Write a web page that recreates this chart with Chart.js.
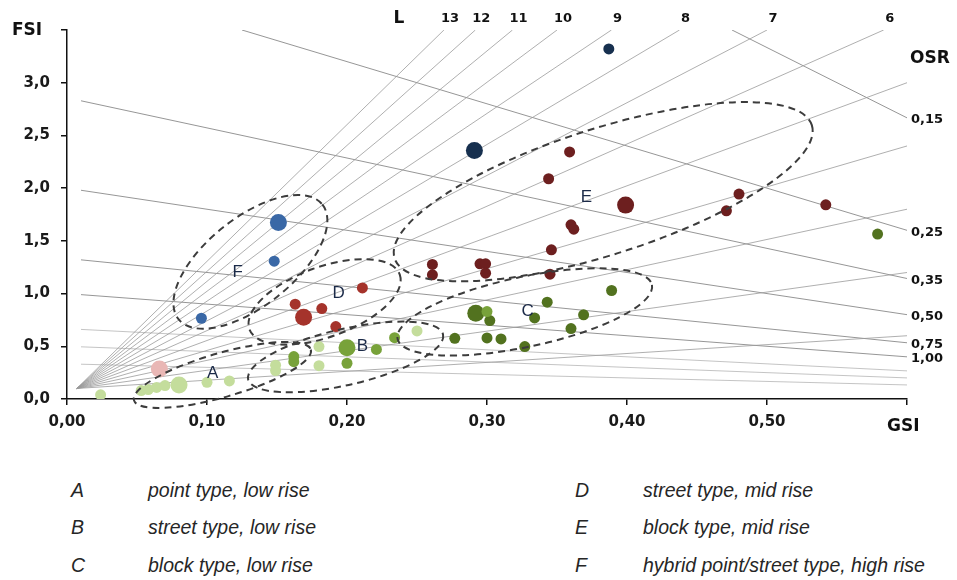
<!DOCTYPE html>
<html>
<head>
<meta charset="utf-8">
<script src="https://cdn.jsdelivr.net/npm/chart.js@4.4.1/dist/chart.umd.min.js"></script>
<style>
body{margin:0;background:#fff;width:957px;height:580px;overflow:hidden;position:relative;font-family:"Liberation Sans",Arial,sans-serif}
#wrap{position:absolute;left:0;top:0;width:957px;height:450px}
.lg{position:absolute;font-family:"Liberation Sans",Arial,sans-serif;font-style:italic;font-size:19.5px;color:#262626;line-height:20px;white-space:nowrap}
</style>
</head>
<body>
<div id="wrap"><canvas id="myChart" width="957" height="450"></canvas></div>
<div id="legend"></div>
<script>
// L lines (FSI = L * GSI) and OSR lines (FSI = (1 - GSI) / OSR)
var lValues = [1, 2, 3, 4, 5, 6, 7, 8, 9, 10, 11, 12, 13];
var lLabelled = [6, 7, 8, 9, 10, 11, 12, 13];
var osrValues = [0.15, 0.25, 0.35, 0.5, 0.75, 1, 1.5, 2, 3];
var osrLabels = ['0,15', '0,25', '0,35', '0,50', '0,75', '1,00'];

// samples
var lightGsi = [0.024, 0.053, 0.058, 0.064, 0.070, 0.080, 0.100, 0.116, 0.149, 0.149, 0.180, 0.180, 0.250];
var lightFsi = [0.04, 0.08, 0.09, 0.11, 0.127, 0.133, 0.158, 0.171, 0.32, 0.27, 0.316, 0.497, 0.646];
var lightBig = [0, 0, 0, 0, 0, 1, 0, 0, 0, 0, 0, 0, 0];

var pinkGsi = [0.066];
var pinkFsi = [0.285];
var pinkBig = [1];

var greenGsi = [0.200, 0.221, 0.234, 0.162, 0.162, 0.200, 0.300];
var greenFsi = [0.487, 0.470, 0.582, 0.402, 0.354, 0.339, 0.829];
var greenBig = [1, 0, 0, 0, 0, 0, 0];

var oliveGsi = [0.277, 0.292, 0.302, 0.343, 0.389, 0.334, 0.369, 0.360, 0.300, 0.310, 0.327, 0.579];
var oliveFsi = [0.576, 0.814, 0.744, 0.918, 1.029, 0.769, 0.798, 0.668, 0.579, 0.570, 0.497, 1.564];
var oliveBig = [0, 1, 0, 0, 0, 0, 0, 0, 0, 0, 0, 0];

var redGsi = [0.211, 0.163, 0.182, 0.169, 0.192];
var redFsi = [1.054, 0.899, 0.858, 0.776, 0.687];
var redBig = [0, 0, 0, 1, 0];

var maroonGsi = [0.261, 0.261, 0.295, 0.299, 0.299, 0.346, 0.345, 0.359, 0.344, 0.399, 0.360, 0.362, 0.480, 0.471, 0.542];
var maroonFsi = [1.276, 1.178, 1.282, 1.282, 1.193, 1.415, 1.184, 2.343, 2.089, 1.839, 1.652, 1.611, 1.944, 1.785, 1.842];
var maroonBig = [0, 0, 0, 0, 0, 0, 0, 0, 0, 1, 0, 0, 0, 0, 0];

var blueGsi = [0.151, 0.148, 0.096];
var blueFsi = [1.674, 1.307, 0.766];
var blueBig = [1, 0, 0];

var navyGsi = [0.291, 0.387];
var navyFsi = [2.358, 3.32];
var navyBig = [1, 0];

var groupLetters = ['A', 'B', 'C', 'D', 'E', 'F'];
var groupNames = ['point type, low rise', 'street type, low rise', 'block type, low rise',
                  'street type, mid rise', 'block type, mid rise', 'hybrid point/street type, high rise'];
var letterGsi = [0.104, 0.211, 0.329, 0.194, 0.371, 0.122];
var letterFsi = [0.247, 0.503, 0.836, 1.007, 1.909, 1.206];

// dashed group outlines: centre in data units, radii in px
var ellipses = [
    {gsi: 0.111, fsi: 0.228, a: 92, b: 22, rot: -16},
    {gsi: 0.199, fsi: 0.399, a: 100, b: 28, rot: -13},
    {gsi: 0.327, fsi: 0.826, a: 130, b: 35, rot: -12},
    {gsi: 0.184, fsi: 0.921, a: 80, b: 35, rot: -20},
    {gsi: 0.383, fsi: 1.966, a: 219, b: 63, rot: -17.7},
    {gsi: 0.131, fsi: 1.301, a: 92, b: 44, rot: -38.6}
];

var gsiMax = 0.6, fsiMax = 3.5;

function pts(g, f, big) {
    return g.map(function (v, i) { return {x: v, y: f[i], big: big[i]}; });
}

var datasets = [];

lValues.forEach(function (L) {
    var end = Math.min(fsiMax / L, gsiMax);
    datasets.push({
        type: 'line', data: [{x: 0.007, y: 0.1}, {x: end, y: L * end}],
        borderColor: '#9a9a9a', borderWidth: 0.8, pointRadius: 0, order: 10
    });
});
osrValues.forEach(function (o, i) {
    var start = Math.max(0.01, 1 - fsiMax * o);
    datasets.push({
        type: 'line', data: [{x: start, y: (1 - start) / o}, {x: gsiMax, y: (1 - gsiMax) / o}],
        borderColor: i < osrLabels.length ? '#8a8a8a' : '#bdbdbd', borderWidth: 0.9, pointRadius: 0, order: 10
    });
});

function addGroup(g, f, big, colour) {
    datasets.push({
        type: 'scatter', data: pts(g, f, big), backgroundColor: colour, borderWidth: 0,
        pointRadius: function (c) { return c.raw && c.raw.big ? 8.5 : 5.5; }, order: 1
    });
}
addGroup(lightGsi, lightFsi, lightBig, '#c4dd9c');
addGroup(pinkGsi, pinkFsi, pinkBig, '#e9b7b5');
addGroup(greenGsi, greenFsi, greenBig, '#78a23a');
addGroup(oliveGsi, oliveFsi, oliveBig, '#52721f');
addGroup(redGsi, redFsi, redBig, '#a5332b');
addGroup(maroonGsi, maroonFsi, maroonBig, '#6d1f1f');
addGroup(blueGsi, blueFsi, blueBig, '#3a68a6');
addGroup(navyGsi, navyFsi, navyBig, '#17304f');

var overlay = {
    id: 'overlay',
    afterDatasetsDraw: function (chart) {
        var c = chart.ctx, xs = chart.scales.x, ys = chart.scales.y;
        c.save();
        c.strokeStyle = '#3c3c3c';
        c.lineWidth = 2;
        c.setLineDash([7, 5]);
        ellipses.forEach(function (e) {
            c.beginPath();
            c.ellipse(xs.getPixelForValue(e.gsi), ys.getPixelForValue(e.fsi), e.a, e.b, e.rot * Math.PI / 180, 0, 2 * Math.PI);
            c.stroke();
        });
        c.setLineDash([]);

        c.fillStyle = '#1b2a48';
        c.font = '17px "Liberation Sans", Arial, sans-serif';
        c.textAlign = 'center';
        c.textBaseline = 'middle';
        groupLetters.forEach(function (t, i) {
            c.fillText(t, xs.getPixelForValue(letterGsi[i]), ys.getPixelForValue(letterFsi[i]));
        });

        c.fillStyle = '#111';
        c.font = 'bold 13px "DejaVu Sans", sans-serif';
        lLabelled.forEach(function (L) {
            c.fillText(String(L), xs.getPixelForValue(fsiMax / L) + 6, 19);
        });
        c.textAlign = 'left';
        osrLabels.forEach(function (t, i) {
            var o = osrValues[i];
            c.fillText(t, xs.getPixelForValue(gsiMax) + 4, ys.getPixelForValue((1 - gsiMax) / o) + 2);
        });

        c.font = 'bold 17px "DejaVu Sans", sans-serif';
        c.fillText('FSI', 12, 31);
        c.fillText('GSI', 887, 427);
        c.fillText('OSR', 910, 59);
        c.textAlign = 'center';
        c.fillText('L', 399, 19);
        c.restore();
    }
};

var tickFont = {family: '"DejaVu Sans", sans-serif', weight: 'bold', size: 15};

var ctx = document.getElementById('myChart').getContext('2d');
var myChart = new Chart(ctx, {
    type: 'scatter',
    data: {datasets: datasets},
    options: {
        responsive: false,
        animation: false,
        layout: {padding: {top: 30, right: 50, left: 0, bottom: 0}},
        plugins: {legend: {display: false}, tooltip: {enabled: false}},
        scales: {
            x: {
                type: 'linear', min: 0, max: gsiMax,
                afterFit: function (s) { s.height = 51; },
                border: {color: '#111', width: 1.5},
                grid: {drawOnChartArea: false, color: '#111', lineWidth: 1.5, tickLength: 6},
                ticks: {
                    stepSize: 0.1, autoSkip: false, maxRotation: 0, padding: 8, color: '#1a1a1a', font: tickFont,
                    callback: function (v) { return v > gsiMax - 1e-6 ? '' : v.toFixed(2).replace('.', ','); }
                }
            },
            y: {
                type: 'linear', min: 0, max: fsiMax,
                afterFit: function (s) { s.width = 67; },
                border: {color: '#111', width: 1.5},
                grid: {drawOnChartArea: false, color: '#111', lineWidth: 1.5, tickLength: 6},
                ticks: {
                    stepSize: 0.5, autoSkip: false, padding: 11, color: '#1a1a1a', font: tickFont,
                    callback: function (v) { return v > fsiMax - 1e-6 ? '' : v.toFixed(1).replace('.', ','); }
                }
            }
        }
    },
    plugins: [overlay]
});

// legend below the chart
var legend = document.getElementById('legend');
var rowY = [480, 517, 555];
groupLetters.forEach(function (t, i) {
    var col = i < 3 ? 0 : 1, row = i % 3;
    var l = document.createElement('div');
    l.className = 'lg';
    l.style.left = (col ? 575 : 71) + 'px';
    l.style.top = rowY[row] + 'px';
    l.textContent = t;
    legend.appendChild(l);
    var d = document.createElement('div');
    d.className = 'lg';
    d.style.left = (col ? 643 : 148) + 'px';
    d.style.top = rowY[row] + 'px';
    d.textContent = groupNames[i];
    legend.appendChild(d);
});
</script>
</body>
</html>
